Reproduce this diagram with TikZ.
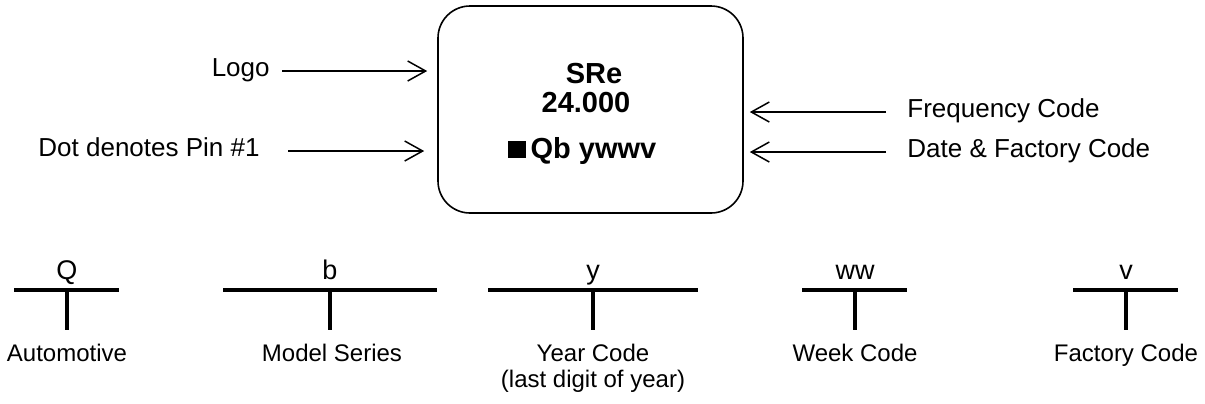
\documentclass[tikz,border=0pt]{standalone}
\usepackage{fontspec}
\setmainfont{Liberation Sans}
\usetikzlibrary{arrows.meta}

\begin{document}
\begin{tikzpicture}[x=0.5pt,y=-0.5pt,>={Straight Barb[length=9pt,width=10pt]},
  lbl/.style={inner sep=0pt,font=\fontsize{13}{15.6}\selectfont},
  chip/.style={draw,line width=0.8pt,rounded corners=16pt,
    minimum width=152.5pt,minimum height=103.5pt},
  boxtxt/.style={inner sep=0pt,anchor=base,font=\fontsize{14.5}{17.4}\selectfont\bfseries},
  code/.style={inner sep=0pt,anchor=base,font=\fontsize{13.5}{16.2}\selectfont},
  desc/.style={inner sep=0pt,anchor=north,align=center,font=\fontsize{12}{14.4}\selectfont},
  tbar/.style={line width=1.6pt},
  pointer/.style={->,line width=0.75pt}]
  \useasboundingbox (0,0) rectangle (1205,403);
  % marking on the part
  \node[chip] (chip) at (590.5,109.5) {};
  \node[boxtxt] (sre) at (594,83) {SRe};
  \node[boxtxt] (freqval) at (586,112) {24.000};
  \node[boxtxt] (lotcode) at (582,158) {\rule{9pt}{8.5pt}\hspace{2.5pt}Qb ywwv};
  % callouts
  \node[lbl,anchor=mid east] (logo) at (270,71) {Logo};
  \node[lbl,anchor=mid east] (pin) at (260,151) {Dot denotes Pin \#1};
  \node[lbl,anchor=mid west] (freq) at (907,112) {Frequency Code};
  \node[lbl,anchor=mid west] (date) at (907,152) {Date \& Factory Code};
  \draw[pointer,shorten <=6pt,shorten >=5pt] (logo.mid east) -- (logo.mid east -| chip.west);
  \draw[pointer,shorten <=14pt,shorten >=6.5pt] (pin.mid east) -- (pin.mid east -| chip.west);
  \draw[pointer,shorten <=10.5pt,shorten >=3pt] (freq.mid west) -- (freq.mid west -| chip.east);
  \draw[pointer,shorten <=10.5pt,shorten >=3pt] (date.mid west) -- (date.mid west -| chip.east);
  % code legend
  \node[code] (cq) at (67,279) {Q};
  \node[code] (cb) at (330,279) {b};
  \node[code] (cy) at (593,279) {y};
  \node[code] (cw) at (855,279) {ww};
  \node[code] (cv) at (1126,279) {v};
  \draw[tbar] (14,290) -- (119,290) (67,290) -- (67,330);
  \draw[tbar] (223,290) -- (437,290) (330,290) -- (330,330);
  \draw[tbar] (488,290) -- (698,290) (593,290) -- (593,330);
  \draw[tbar] (802,290) -- (907,290) (855,290) -- (855,330);
  \draw[tbar] (1073,290) -- (1178,290) (1126,290) -- (1126,330);
  \node[desc] (dq) at (67,344) {Automotive};
  \node[desc] (db) at (332,344) {Model Series};
  \node[desc] (dy) at (593,344) {Year Code\\[-1.8pt](last digit of year)};
  \node[desc] (dw) at (855,344) {Week Code};
  \node[desc] (dv) at (1126,344) {Factory Code};
\end{tikzpicture}
\end{document}
